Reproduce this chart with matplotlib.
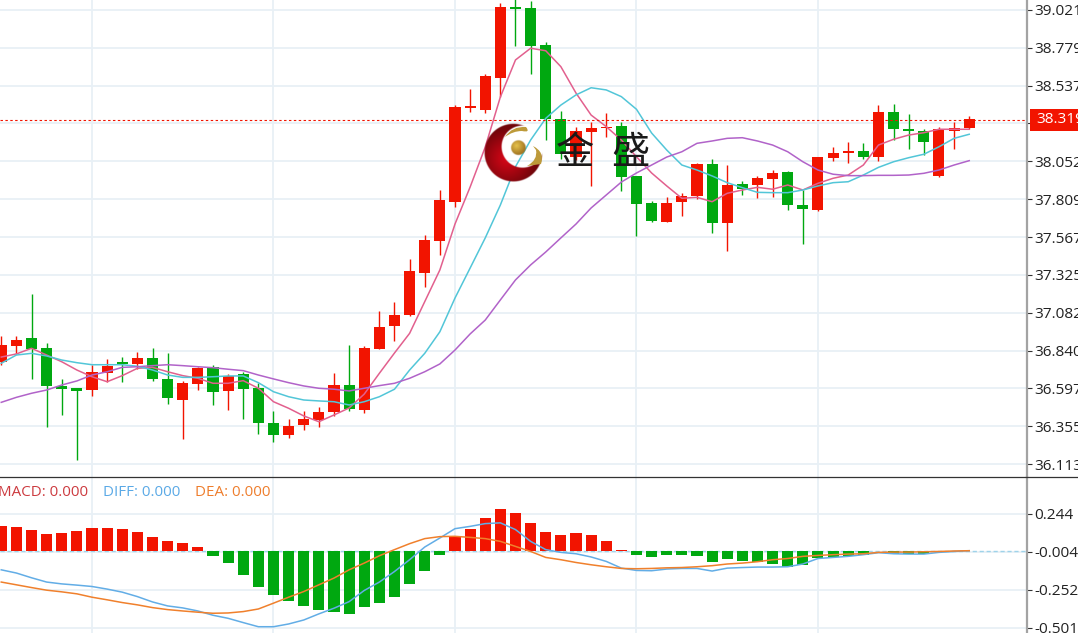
import matplotlib
matplotlib.use('Agg')
import matplotlib.pyplot as plt
import matplotlib.patches as patches
from matplotlib.path import Path
import numpy as np

# candles, oldest first
open_ = [36.768, 36.871, 36.918, 36.858, 36.613, 36.600, 36.587, 36.696, 36.766, 36.756, 36.792, 36.659, 36.525,
         36.624, 36.732, 36.579, 36.690, 36.600, 36.378, 36.297, 36.361, 36.395, 36.444, 36.617, 36.459, 36.850,
         36.997, 37.067, 37.338, 37.543, 37.791, 38.391, 38.380, 38.587, 39.042, 39.036, 38.797, 38.321, 38.081,
         38.241, 38.263, 38.278, 37.958, 37.785, 37.663, 37.791, 37.830, 38.035, 37.655, 37.905, 37.900, 37.939,
         37.981, 37.772, 37.742, 38.073, 38.105, 38.118, 38.078, 38.366, 38.261, 38.246, 37.956, 38.248, 38.265]
close = [36.875, 36.909, 36.850, 36.611, 36.595, 36.579, 36.700, 36.743, 36.756, 36.792, 36.659, 36.534, 36.630,
         36.728, 36.576, 36.679, 36.595, 36.374, 36.301, 36.356, 36.401, 36.448, 36.617, 36.465, 36.854, 36.989,
         37.069, 37.349, 37.548, 37.804, 38.402, 38.408, 38.598, 39.042, 39.029, 38.790, 38.321, 38.099, 38.246,
         38.268, 38.274, 37.949, 37.780, 37.671, 37.787, 37.830, 38.035, 37.655, 37.902, 37.876, 37.943, 37.979,
         37.772, 37.744, 38.079, 38.107, 38.118, 38.078, 38.368, 38.259, 38.244, 38.177, 38.257, 38.267, 38.321]
high = [36.933, 36.933, 37.202, 36.886, 36.656, 36.600, 36.747, 36.786, 36.800, 36.829, 36.858, 36.822, 36.643,
        36.736, 36.749, 36.688, 36.704, 36.630, 36.451, 36.399, 36.453, 36.476, 36.694, 36.873, 36.869, 37.095,
        37.149, 37.426, 37.578, 37.868, 38.412, 38.515, 38.611, 39.064, 39.090, 39.081, 38.818, 38.374, 38.274,
        38.304, 38.359, 38.306, 37.958, 37.800, 37.821, 37.847, 38.039, 38.067, 38.026, 37.924, 37.958, 37.994,
        37.990, 37.868, 38.081, 38.145, 38.175, 38.171, 38.414, 38.419, 38.353, 38.257, 38.274, 38.304, 38.342]
low = [36.747, 36.818, 36.656, 36.350, 36.429, 36.139, 36.549, 36.636, 36.638, 36.720, 36.647, 36.497, 36.275,
       36.589, 36.493, 36.457, 36.403, 36.305, 36.256, 36.282, 36.331, 36.348, 36.419, 36.453, 36.442, 36.850,
       36.899, 37.063, 37.249, 37.450, 37.757, 38.370, 38.359, 38.466, 38.792, 38.611, 38.188, 38.065, 38.060,
       37.896, 38.206, 37.864, 37.573, 37.661, 37.663, 37.702, 37.812, 37.591, 37.479, 37.834, 37.817, 37.823,
       37.740, 37.522, 37.736, 38.056, 38.039, 38.065, 38.056, 38.188, 38.133, 38.092, 37.949, 38.133, 38.257]

ma5 = [36.798, 36.818, 36.854, 36.811, 36.768, 36.715, 36.672, 36.640, 36.679, 36.726, 36.732, 36.704, 36.679,
       36.662, 36.630, 36.630, 36.647, 36.598, 36.512, 36.470, 36.421, 36.384, 36.427, 36.472, 36.561, 36.694,
       36.824, 36.950, 37.153, 37.356, 37.650, 37.887, 38.143, 38.464, 38.701, 38.776, 38.760, 38.658, 38.489,
       38.348, 38.274, 38.188, 38.081, 37.977, 37.894, 37.815, 37.821, 37.793, 37.847, 37.868, 37.885, 37.873,
       37.900, 37.868, 37.911, 37.943, 37.964, 38.028, 38.156, 38.193, 38.220, 38.235, 38.257, 38.257, 38.257]
ma10 = [36.758, 36.811, 36.822, 36.805, 36.779, 36.762, 36.749, 36.749, 36.749, 36.739, 36.715, 36.683, 36.668,
        36.668, 36.672, 36.677, 36.677, 36.634, 36.576, 36.544, 36.523, 36.517, 36.512, 36.491, 36.512, 36.544,
        36.592, 36.715, 36.822, 36.960, 37.176, 37.368, 37.561, 37.772, 38.017, 38.188, 38.327, 38.412, 38.477,
        38.523, 38.509, 38.466, 38.385, 38.233, 38.124, 38.028, 37.996, 37.958, 37.915, 37.883, 37.853, 37.851,
        37.851, 37.868, 37.894, 37.915, 37.921, 37.964, 38.013, 38.049, 38.075, 38.097, 38.145, 38.199, 38.225]
ma20 = [36.508, 36.540, 36.566, 36.587, 36.619, 36.645, 36.683, 36.704, 36.732, 36.736, 36.743, 36.749, 36.743,
        36.736, 36.730, 36.720, 36.711, 36.683, 36.658, 36.634, 36.613, 36.598, 36.592, 36.581, 36.598, 36.615,
        36.630, 36.662, 36.704, 36.754, 36.843, 36.946, 37.035, 37.164, 37.292, 37.388, 37.471, 37.561, 37.650,
        37.753, 37.836, 37.919, 37.977, 38.028, 38.079, 38.113, 38.167, 38.182, 38.199, 38.203, 38.182, 38.156,
        38.113, 38.049, 37.996, 37.969, 37.960, 37.960, 37.962, 37.962, 37.964, 37.975, 37.996, 38.028, 38.056]

macd = [0.161, 0.157, 0.135, 0.112, 0.118, 0.129, 0.148, 0.151, 0.144, 0.127, 0.092, 0.066, 0.054, 0.026, -0.031,
        -0.079, -0.155, -0.236, -0.289, -0.326, -0.361, -0.387, -0.400, -0.413, -0.367, -0.341, -0.298, -0.216,
        -0.131, -0.026, 0.092, 0.146, 0.218, 0.273, 0.247, 0.186, 0.122, 0.105, 0.118, 0.102, 0.066, 0.007, -0.029,
        -0.039, -0.029, -0.029, -0.031, -0.072, -0.052, -0.064, -0.072, -0.085, -0.103, -0.090, -0.046, -0.039,
        -0.035, -0.029, -0.003, -0.018, -0.018, -0.020, -0.003, -0.002, 0.002]
diff = [-0.123, -0.144, -0.175, -0.203, -0.215, -0.223, -0.232, -0.249, -0.269, -0.298, -0.333, -0.359, -0.372,
        -0.392, -0.420, -0.440, -0.468, -0.495, -0.495, -0.477, -0.451, -0.411, -0.374, -0.331, -0.258, -0.203,
        -0.134, -0.057, 0.026, 0.085, 0.146, 0.161, 0.179, 0.184, 0.140, 0.063, 0.009, -0.009, -0.018, -0.039,
        -0.068, -0.112, -0.127, -0.129, -0.118, -0.114, -0.114, -0.131, -0.112, -0.108, -0.105, -0.105, -0.103,
        -0.085, -0.049, -0.042, -0.035, -0.024, -0.011, -0.018, -0.020, -0.020, -0.009, -0.003, 0.002]
dea = [-0.203, -0.221, -0.239, -0.256, -0.267, -0.280, -0.302, -0.319, -0.337, -0.352, -0.370, -0.383, -0.392,
       -0.400, -0.407, -0.405, -0.396, -0.379, -0.341, -0.302, -0.265, -0.221, -0.177, -0.123, -0.079, -0.031,
       0.009, 0.048, 0.081, 0.094, 0.096, 0.089, 0.081, 0.063, 0.030, -0.003, -0.042, -0.057, -0.075, -0.090,
       -0.103, -0.114, -0.116, -0.114, -0.110, -0.108, -0.103, -0.096, -0.085, -0.079, -0.070, -0.057, -0.049,
       -0.035, -0.029, -0.024, -0.020, -0.018, -0.009, -0.007, -0.007, -0.005, -0.003, 0.000, 0.002]

price_ticks = [39.021, 38.779, 38.537, 38.295, 38.052, 37.809, 37.567, 37.325, 37.082, 36.840, 36.597, 36.355, 36.113]
price_labels = ['39.021', '38.779', '38.537', '', '38.052', '37.809', '37.567', '37.325', '37.082', '36.840',
                '36.597', '36.355', '36.113']
macd_ticks = [0.244, -0.004, -0.252, -0.501]
macd_labels = ['0.244', '-0.004', '-0.252', '-0.501']
time_ticks = [6, 18, 30, 42, 54]
last_price = 38.319

RED = '#f21400'
GREEN = '#00a810'
GRID = '#e8f0f6'
FONT = 'Open Sans'
W, H = 1078, 633
PLOT_W = 1027
SPLIT = 476.5

plt.rcParams['font.family'] = [FONT, 'DejaVu Sans']
fig = plt.figure(figsize=(W / 100, H / 100), dpi=100)
ax = fig.add_axes([0, (H - SPLIT) / H, PLOT_W / W, SPLIT / H])
ax2 = fig.add_axes([0, 0, PLOT_W / W, (H - SPLIT) / H])

x = np.arange(len(open_))
opens, closes = np.array(open_), np.array(close)
up = closes >= opens
colors = [RED if u else GREEN for u in up]

# price pane
ax.vlines(x, low, high, colors=colors, linewidth=1.0, zorder=2)
ax.bar(x, np.abs(closes - opens), bottom=np.minimum(opens, closes), width=0.73, color=colors, zorder=3)
ax.plot(x, ma5, color='#e2608e', lw=1.1, zorder=4)
ax.plot(x, ma10, color='#52c6d8', lw=1.1, zorder=4)
ax.plot(x, ma20, color='#b163c9', lw=1.1, zorder=4)
ax.axhline(last_price, color=RED, lw=0.8, ls=(0, (2.2, 2.2)), zorder=5)
ax.set_ylim(36.033, 39.085)
ax.set_yticks(price_ticks)
ax.set_yticklabels(price_labels)

# macd pane
ax2.axhline(0, color='#9fd3ea', lw=1.0, ls=(0, (3, 2)), zorder=1)
ax2.bar(x, macd, width=0.73, color=[RED if m > 0 else GREEN for m in macd], zorder=3)
ax2.plot(x, diff, color='#62ade6', lw=1.1, zorder=4)
ax2.plot(x, dea, color='#f0802c', lw=1.1, zorder=4)
ax2.set_ylim(-0.536, 0.487)
ax2.set_yticks(macd_ticks)
ax2.set_yticklabels(macd_labels)

for a in (ax, ax2):
    a.set_xlim(-0.083, 67.82)
    a.set_xticks(time_ticks)
    a.yaxis.tick_right()
    a.tick_params(axis='x', length=0, labelbottom=False)
    a.tick_params(axis='y', length=3.6, width=0.8, color='#333333', pad=1.5, labelsize=11.1, labelcolor='#222222')
    a.grid(True, color=GRID, lw=1.3)
    a.set_axisbelow(True)
    for side in ('top', 'left', 'bottom'):
        a.spines[side].set_visible(False)
    a.spines['right'].set_color('#a3a3a3')
    a.spines['right'].set_linewidth(1.6)

# macd legend
fig.text(-2 / W, 1 - 492 / H, 'MACD: 0.000', color='#cc3a3f', fontsize=10.9, va='center')
fig.text(103 / W, 1 - 492 / H, 'DIFF: 0.000', color='#5aa9e6', fontsize=10.9, va='center')
fig.text(195 / W, 1 - 492 / H, 'DEA: 0.000', color='#ee7d2c', fontsize=10.9, va='center')

# overlay in pixel coordinates for the divider, the logo and the price tag
ov = fig.add_axes([0, 0, 1, 1], zorder=10)
ov.patch.set_alpha(0)
ov.axis('off')
ov.plot([0, W], [476.5, 476.5], color='#333333', lw=0.9, zorder=1)

# crescent with a radial shading
gx, gy = np.meshgrid(np.arange(480, 548, 0.25), np.arange(119, 186, 0.25))
outer = np.hypot(gx - 513.3, gy - 152.5)
inner = np.hypot(gx - 522.5, gy - 146.5)
shade = np.clip(np.hypot(gx - 507, gy - 158) / 30, 0, 1)
rgba = np.zeros(gx.shape + (4,))
rgba[..., 0] = 0.86 - 0.42 * shade
rgba[..., 1] = 0.02
rgba[..., 2] = 0.09 - 0.05 * shade
rgba[..., 3] = np.clip(29.3 - outer, 0, 1) * np.clip(inner - 20.5, 0, 1)
ov.imshow(rgba, extent=(480, 548, 186, 119), interpolation='bilinear', aspect='auto', zorder=1)

# gold ball and swirls
ball = np.zeros(gx.shape + (4,))
dist = np.hypot(gx - 516.5, gy - 145.5) / 11
ball[..., 0] = 0.90 - 0.32 * np.clip(dist, 0, 1)
ball[..., 1] = 0.76 - 0.36 * np.clip(dist, 0, 1)
ball[..., 2] = 0.30 - 0.20 * np.clip(dist, 0, 1)
ball[..., 3] = np.clip(7.8 - np.hypot(gx - 518.3, gy - 147.5), 0, 1)
ov.imshow(ball, extent=(480, 548, 186, 119), interpolation='bilinear', aspect='auto', zorder=2)
swirl_top = Path([(505, 137), (512, 126), (526, 127), (531, 133), (522, 131), (513, 131), (505, 137), (505, 137)],
                 [Path.MOVETO, Path.CURVE3, Path.CURVE3, Path.CURVE3, Path.CURVE3, Path.CURVE3, Path.LINETO, Path.CLOSEPOLY])
swirl_right = Path([(527, 166), (538, 160), (536, 150), (533, 146), (545, 152), (541, 164), (527, 166), (527, 166)],
                   [Path.MOVETO, Path.CURVE3, Path.CURVE3, Path.LINETO, Path.CURVE3, Path.CURVE3, Path.LINETO, Path.CLOSEPOLY])
ov.add_patch(patches.PathPatch(swirl_top, facecolor='#bd9a3a', edgecolor='none', zorder=2))
ov.add_patch(patches.PathPatch(swirl_right, facecolor='#bd9a3a', edgecolor='none', zorder=2))

ov.text(575, 154, '金', fontsize=27.5, color='#1a1a1a', ha='center', va='center',
        family=['Noto Sans CJK SC', 'DejaVu Sans'], zorder=3)
ov.text(630.5, 154, '盛', fontsize=27.5, color='#1a1a1a', ha='center', va='center',
        family=['Noto Sans CJK SC', 'DejaVu Sans'], zorder=3)

# last price tag
ov.add_patch(patches.Rectangle((1030, 108.5), 48, 22.5, facecolor=RED, edgecolor='none', zorder=3))
ov.text(1036, 119.7, f'{last_price:.3f}', color='white', fontsize=11.1, va='center', zorder=4)

ov.set_xlim(0, W)
ov.set_ylim(H, 0)

fig.savefig('out.png', dpi=100)
